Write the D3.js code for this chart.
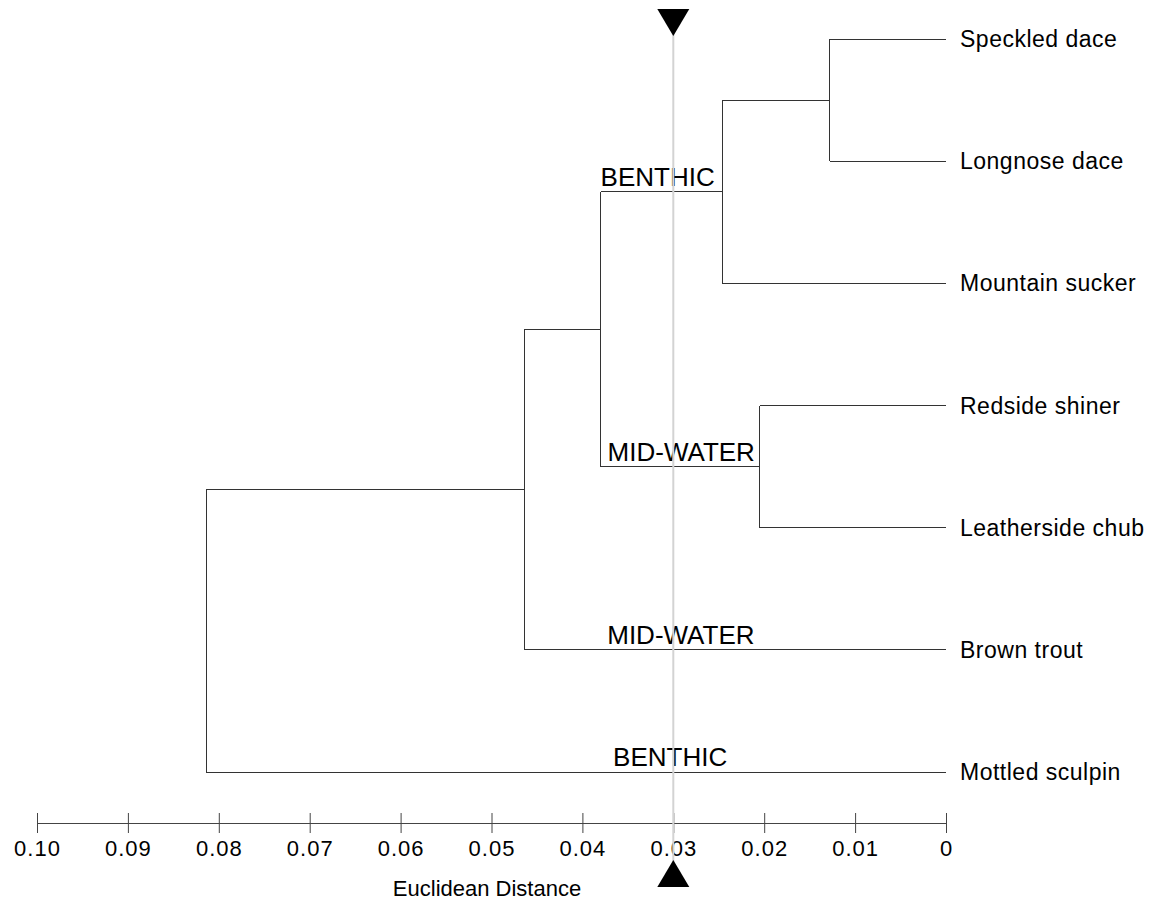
<!DOCTYPE html>
<html>
<head>
<meta charset="utf-8">
<script src="https://cdn.jsdelivr.net/npm/d3@7"></script>
<style>
  body { margin: 0; background: #fff; }
  svg text { font-family: "Liberation Sans", Arial, sans-serif; fill: #000; }
</style>
</head>
<body>
<div id="chart"></div>
<script>
// leaves, top to bottom
var species = ["Speckled dace", "Longnose dace", "Mountain sucker", "Redside shiner",
               "Leatherside chub", "Brown trout", "Mottled sculpin"];

// merges: children are species names or the index of an earlier merge
var mergeChildren = [
    ["Speckled dace", "Longnose dace"],
    [0, "Mountain sucker"],
    ["Redside shiner", "Leatherside chub"],
    [1, 2],
    [3, "Brown trout"],
    [4, "Mottled sculpin"]
];
var mergeHeights = [0.0128, 0.0246, 0.0205, 0.0380, 0.0464, 0.0814];

var tickValues = [0.10, 0.09, 0.08, 0.07, 0.06, 0.05, 0.04, 0.03, 0.02, 0.01, 0];
var cutDistance = 0.03;

// habitat labels sit above the branch leading to a node
var habitatText = ["BENTHIC", "MID-WATER", "MID-WATER", "BENTHIC"];
var habitatNode = [1, 2, "Brown trout", "Mottled sculpin"];
var habitatShift = [0, 7, 83, 407]; // px right of the parent node

var width = 1157, height = 906;

var svg = d3.select("#chart").append("svg")
    .attr("width", width)
    .attr("height", height);

var x = d3.scaleLinear().domain([0.10, 0]).range([37, 946]);
var y = d3.scalePoint().domain(species).range([39, 772]);

// node helpers
function nodeY(c) {
    if (typeof c === "string") return y(c);
    var ch = mergeChildren[c];
    return (nodeY(ch[0]) + nodeY(ch[1])) / 2;
}
function nodeH(c) { return typeof c === "string" ? 0 : mergeHeights[c]; }
var parentOf = {};
mergeChildren.forEach(function(ch, i) {
    parentOf[String(ch[0])] = i;
    parentOf[String(ch[1])] = i;
});

var g = svg.append("g")
    .attr("fill", "none")
    .attr("stroke", "#333")
    .attr("stroke-width", 1)
    .attr("shape-rendering", "crispEdges");

mergeChildren.forEach(function(ch, i) {
    var px = x(mergeHeights[i]);
    // vertical joining the two children
    g.append("line")
        .attr("x1", px).attr("x2", px)
        .attr("y1", nodeY(ch[0])).attr("y2", nodeY(ch[1]));
    // horizontals out to each child
    ch.forEach(function(c) {
        g.append("line")
            .attr("x1", px).attr("x2", x(nodeH(c)))
            .attr("y1", nodeY(c)).attr("y2", nodeY(c));
    });
});

// leaf labels
svg.selectAll(".leaf")
    .data(species)
    .enter().append("text")
    .attr("class", "leaf")
    .attr("x", x(0) + 14)
    .attr("y", function(d) { return y(d); })
    .attr("dy", "0.35em")
    .style("font-size", "23px")
    .style("letter-spacing", "0.5px")
    .text(function(d) { return d; });

// habitat labels
habitatText.forEach(function(t, i) {
    var n = habitatNode[i];
    var px = x(mergeHeights[parentOf[String(n)]]);
    svg.append("text")
        .attr("x", px + habitatShift[i])
        .attr("y", nodeY(n) - 6)
        .style("font-size", "26px")
        .text(t);
});

// axis
var axis = d3.axisBottom(x)
    .tickValues(tickValues)
    .tickSize(10)
    .tickPadding(8)
    .tickFormat(function(d) { return d === 0 ? "0" : d3.format(".2f")(d); });

var ax = svg.append("g")
    .attr("transform", "translate(0,823)")
    .call(axis);
ax.select(".domain").attr("stroke", "#444").attr("d", "M" + x(0.10) + ",0.5H" + x(0));
ax.selectAll(".tick line").attr("stroke", "#444").attr("y1", -10).attr("y2", 10);
ax.selectAll(".tick text")
    .attr("y", 17)
    .attr("dy", "0.71em")
    .style("font-size", "22px")
    .style("letter-spacing", "1px")
    .style("font-family", "'Liberation Sans', Arial, sans-serif")
    .attr("fill", "#000");

svg.append("text")
    .attr("x", 487)
    .attr("y", 896)
    .attr("text-anchor", "middle")
    .style("font-size", "22px")
    .text("Euclidean Distance");

// cut line with markers
var cx = x(cutDistance);
svg.append("line")
    .attr("x1", cx).attr("x2", cx)
    .attr("y1", 30).attr("y2", 862)
    .attr("stroke", "#d3d3d3")
    .attr("stroke-width", 2);

svg.append("path")
    .attr("d", "M" + (cx - 16) + ",9L" + (cx + 16) + ",9L" + cx + ",36Z")
    .attr("fill", "#000");
svg.append("path")
    .attr("d", "M" + (cx - 16) + ",887L" + (cx + 16) + ",887L" + cx + ",860Z")
    .attr("fill", "#000");
</script>
</body>
</html>
